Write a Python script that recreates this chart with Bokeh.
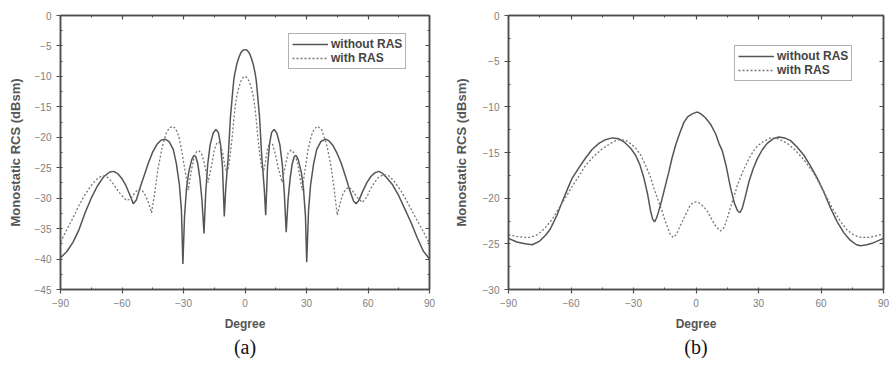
from bokeh.plotting import figure
from bokeh.models import (LinearAxis, SingleIntervalTicker, Legend, LegendItem,
                          Title, Range1d, ColumnDataSource)
from bokeh.layouts import row
from bokeh.embed import file_html
from bokeh.resources import INLINE

# ---------------- data: panel (a) ----------------
a_without_x = [-90, -87, -84, -81, -78, -75, -72, -69, -66, -64, -62, -60, -58, -56, -54.5, -53, -51, -49,
               -47, -45, -43, -41, -39, -37, -35, -33.5, -32, -31, -30.3, -29.5, -28.5, -27.5, -26, -25,
               -24, -23, -22, -21, -20, -19.2, -18.2, -17, -15.5, -14.2, -13, -12, -11, -10.1, -9.4,
               -8.8, -8.2, -7.1, -6, -5.5, -5, -4, -3, -2, -1, 0,
               1, 2, 3, 4, 5, 5.5, 6, 7.1, 8.2, 8.8, 9.4, 10.1, 11, 12, 13, 14.2, 15.5, 17, 18.2, 19.2,
               20.1, 21, 22, 23, 24, 25, 26, 27.5, 28.5, 29.5, 30.1, 31, 32, 33.5, 35, 37, 39.3, 41, 43,
               45, 47, 49, 51, 53, 54.2, 55.5, 57.5, 59.5, 61.5, 63.5, 65.3, 67, 69, 72, 75, 78, 81, 84,
               87, 90]
a_without_y = [-39.8, -38.8, -37.3, -35.2, -32.4, -30.0, -28.0, -26.5, -25.7, -25.6, -26.0, -26.8, -28.0,
               -29.6, -30.9, -30.3, -28.1, -26.1, -24.1, -22.4, -21.2, -20.5, -20.3, -20.7, -22.0, -24.3,
               -27.8, -32.0, -40.8, -33.0, -28.3, -25.8, -23.7, -23.0, -23.2, -24.4, -26.8, -30.3, -35.8,
               -29.3, -24.5, -21.2, -19.3, -18.7, -19.2, -21.0, -24.8, -33.0, -28.5, -25.8, -23.3, -16.7,
               -12.5, -10.7, -9.6, -8.0, -6.9, -6.1, -5.7, -5.6,
               -5.7, -6.1, -6.9, -8.0, -9.6, -10.7, -12.5, -16.7, -23.3, -25.8, -28.5, -32.8, -24.8, -21.0,
               -19.2, -18.7, -19.3, -21.2, -24.5, -29.3, -35.6, -30.3, -26.8, -24.4, -23.2, -23.0, -23.7,
               -25.8, -28.3, -33.0, -40.5, -32.0, -27.8, -24.3, -22.0, -20.7, -20.3, -20.6, -21.4, -22.7,
               -24.3, -26.4, -28.6, -30.5, -30.9, -30.4, -28.8, -27.4, -26.4, -25.8, -25.6, -25.9, -26.6,
               -27.8, -29.6, -31.8, -34.0, -36.5, -38.7, -40.0]

a_with_x = [-90, -87, -84, -81, -78, -75, -72, -69.7, -67, -65, -63.2, -61, -59, -57.5, -55.5, -53.5, -51.8,
            -50, -48.5, -47, -45.6, -44.2, -42.5, -40.4, -38.5, -37, -35.5, -34, -32.3, -30.6, -29.2,
            -27.7, -26.2, -24.8, -23.5, -22.5, -21.2, -19.8, -18, -16.3, -14.9, -13.6, -12.3, -11, -9.8,
            -8.8, -8, -7.2, -6.2, -5.4, -4.6, -4, -3, -2, -1, 0,
            1, 2, 3, 4, 4.6, 5.4, 6.2, 7.2, 8, 9, 10, 11, 12.1, 13.3, 14.6, 16.2, 18.1, 19.6, 21, 22.5,
            24, 25.5, 27.9, 29.3, 30.8, 32.3, 33.8, 35.5, 37.5, 40.1, 41.8, 43.4, 45, 46.3, 47.4, 49,
            50.7, 52.5, 54.5, 57.2, 59.5, 61, 62.8, 65, 67.7, 70, 72.5, 75.9, 78.5, 81, 84, 87, 90]
a_with_y = [-37.2, -35.2, -33.3, -31.2, -29.4, -27.9, -26.8, -26.3, -26.6, -27.3, -28.2, -29.2, -30.0,
            -30.4, -30.0, -29.0, -28.5, -28.8, -29.6, -30.8, -32.4, -29.5, -25.3, -21.6, -19.4, -18.5,
            -18.2, -18.5, -19.8, -22.7, -25.6, -28.7, -25.5, -23.2, -22.3, -22.2, -22.7, -24.3, -27.4,
            -24.6, -22.0, -20.8, -20.9, -22.4, -24.8, -25.8, -24.8, -22.8, -19.8, -16.8, -14.5, -13.2,
            -11.8, -10.8, -10.2, -10.0,
            -10.2, -10.8, -11.8, -13.2, -14.5, -16.8, -19.8, -22.8, -24.8, -25.7, -24.0, -21.8, -20.8,
            -21.0, -22.5, -25.0, -27.4, -24.8, -22.6, -22.1, -22.6, -24.0, -28.7, -25.3, -22.0, -19.8,
            -18.6, -18.2, -18.8, -21.6, -24.5, -28.2, -32.8, -31.0, -29.6, -28.6, -28.2, -28.8, -29.8,
            -30.7, -29.8, -28.6, -27.6, -26.6, -26.1, -26.3, -27.1, -28.7, -30.2, -31.8, -33.7, -35.5,
            -37.5]

# ---------------- data: panel (b) ----------------
b_without_x = [-90, -86, -82, -78.6, -75, -72, -70, -67, -64.2, -61.5, -59.4, -56, -53, -50, -46.6, -43.5,
               -40.2, -37, -34.2, -31.5, -29, -27, -25, -23.2, -21.8, -20.8, -19.9, -19, -18, -17, -15,
               -13, -11.5, -9.8, -8, -5.8, -4, -2, 0, 1, 2.5, 4.5, 7, 9.5, 11, 12.6, 14.5, 16.6, 18.5,
               20, 21.1, 22.2, 23.5, 25.4, 27.4, 29.4, 31.8, 34.2, 37, 39.8, 42.5, 45.4, 48.5, 51.8, 55,
               58.2, 61.5, 64.6, 67.8, 71, 74, 77, 79, 82, 85, 87, 90]
b_without_y = [-24.4, -24.8, -25.0, -25.1, -24.7, -24.0, -23.4, -22.0, -20.4, -18.9, -17.8, -16.6, -15.6,
               -14.7, -14.0, -13.6, -13.4, -13.5, -13.9, -14.5, -15.3, -16.3, -17.8, -19.6, -21.4, -22.3,
               -22.6, -22.2, -21.5, -20.7, -18.9, -17.1, -15.6, -14.2, -13.0, -11.7, -11.1, -10.8, -10.6,
               -10.6, -10.8, -11.2, -11.9, -13.0, -14.0, -14.8, -16.5, -18.9, -20.6, -21.4, -21.6, -21.1,
               -20.0, -18.2, -16.8, -15.7, -14.7, -14.0, -13.5, -13.3, -13.4, -13.7, -14.4, -15.3, -16.5,
               -17.8, -19.4, -21.1, -22.6, -23.8, -24.6, -25.1, -25.2, -25.1, -24.9, -24.7, -24.4]

b_with_x = [-90, -86, -82, -80.2, -77, -74.5, -72.2, -69, -65.8, -62.5, -59.4, -56, -53, -49, -45, -41,
            -38.5, -36.2, -33.5, -31, -29, -26.5, -24.2, -22, -20.2, -18.2, -16.2, -14.5, -12.5, -11,
            -9.5, -7.5, -5, -3, -1.5, 0, 1.5, 3.5, 5.4, 7.5, 9.5, 11.8, 13.5, 15, 17.4, 20, 23, 25.8,
            28.6, 31.5, 35.8, 39.5, 43.8, 47.5, 51.8, 56, 59.8, 63, 66.2, 69.5, 72.6, 75.5, 79, 83, 87, 90]
b_with_y = [-24.0, -24.2, -24.3, -24.3, -24.1, -23.7, -23.2, -22.3, -21.1, -19.9, -18.7, -17.5, -16.4,
            -15.4, -14.6, -14.0, -13.7, -13.6, -13.7, -14.1, -14.5, -15.3, -16.4, -17.6, -18.9, -20.2,
            -21.5, -22.7, -23.9, -24.3, -24.0, -23.0, -21.8, -20.9, -20.5, -20.4, -20.5, -20.9, -21.4,
            -22.3, -23.1, -23.6, -23.2, -22.2, -20.4, -18.5, -16.8, -15.5, -14.5, -13.9, -13.4, -13.5,
            -14.0, -14.7, -15.8, -17.1, -18.6, -20.0, -21.4, -22.6, -23.5, -24.0, -24.3, -24.3, -24.1,
            -23.9]

series_names = ["without RAS", "with RAS"]
x_ticks_interval = 30
y_ticks_interval = 5

FRAME = "#4d4d4d"
TICKC = "#808080"
LABC = "#555555"


def style_axis(ax, show_labels, inward):
    ax.axis_line_color = FRAME
    ax.axis_line_width = 1.5
    ax.major_tick_line_color = FRAME
    ax.minor_tick_line_color = FRAME
    ax.major_tick_line_width = 1.2
    ax.minor_tick_line_width = 1.0
    if inward:
        ax.major_tick_in = 4
        ax.major_tick_out = 0
        ax.minor_tick_in = 2
        ax.minor_tick_out = 0
    else:
        ax.major_tick_in = 0
        ax.major_tick_out = 4
        ax.minor_tick_in = 2
        ax.minor_tick_out = 0
    if show_labels:
        ax.major_label_text_font = "Liberation Sans"
        ax.major_label_text_font_size = "10px"
        ax.major_label_text_color = TICKC
        ax.major_label_standoff = 5
    else:
        ax.major_label_text_color = None
        ax.major_label_standoff = 0
        ax.axis_label = None


def make_panel(width, ymin, b_left, b_right, b_top, b_bottom, xs_s, ys_s, xs_d, ys_d, leg_loc, tag,
               ylab_standoff):
    p = figure(width=width, height=367, x_range=Range1d(-90, 90), y_range=Range1d(ymin, 0),
               output_backend="svg", toolbar_location=None,
               min_border_left=b_left, min_border_right=b_right,
               min_border_top=b_top, min_border_bottom=b_bottom)
    p.xgrid.visible = False
    p.ygrid.visible = False
    p.outline_line_color = FRAME
    p.outline_line_width = 1.5
    p.background_fill_color = "white"
    p.border_fill_color = "white"

    xt = SingleIntervalTicker(interval=x_ticks_interval, num_minor_ticks=2)
    yt = SingleIntervalTicker(interval=y_ticks_interval, num_minor_ticks=2)
    p.xaxis.ticker = xt
    p.yaxis.ticker = yt
    style_axis(p.xaxis[0], True, False)
    style_axis(p.yaxis[0], True, False)
    p.xaxis.axis_label = "Degree"
    p.yaxis.axis_label = "Monostatic RCS (dBsm)"
    for ax in (p.xaxis[0], p.yaxis[0]):
        ax.axis_label_text_font = "Liberation Sans"
        ax.axis_label_text_font_style = "bold"
        ax.axis_label_text_color = LABC
    p.xaxis.axis_label_text_font_size = "12px"
    p.yaxis.axis_label_text_font_size = "13px"
    p.xaxis.axis_label_standoff = 7
    p.yaxis.axis_label_standoff = ylab_standoff

    top = LinearAxis(ticker=SingleIntervalTicker(interval=x_ticks_interval, num_minor_ticks=2))
    right = LinearAxis(ticker=SingleIntervalTicker(interval=y_ticks_interval, num_minor_ticks=2))
    style_axis(top, False, True)
    style_axis(right, False, True)
    p.add_layout(top, "above")
    p.add_layout(right, "right")

    src_s = ColumnDataSource(dict(x=xs_s, y=ys_s))
    src_d = ColumnDataSource(dict(x=xs_d, y=ys_d))
    r1 = p.line("x", "y", source=src_s, line_color="#555555", line_width=1.5)
    r2 = p.line("x", "y", source=src_d, line_color="#777777", line_width=1.3, line_dash="2 2")

    leg = Legend(items=[LegendItem(label=series_names[0], renderers=[r1]),
                        LegendItem(label=series_names[1], renderers=[r2])],
                 location=leg_loc)
    leg.label_text_font = "Liberation Sans"
    leg.label_text_font_size = "12px"
    leg.label_text_font_style = "bold"
    leg.label_text_color = "#444444"
    leg.border_line_color = "#666666"
    leg.border_line_width = 1.5
    leg.glyph_width = 36
    leg.glyph_height = 14
    leg.label_height = 14
    leg.label_standoff = 3
    leg.spacing = 0
    leg.padding = 3
    leg.margin = 0
    leg.background_fill_alpha = 1
    p.add_layout(leg)

    t = Title(text=tag, align="center", text_font="Liberation Serif", text_font_size="20px",
              text_font_style="normal", text_color="#111111", offset=0, standoff=0)
    p.add_layout(t, "below")
    return p


p1 = make_panel(449, -45, 60, 20, 15, 78, a_without_x, a_without_y, a_with_x, a_with_y,
                (228, 220), "(a)", 9)
p2 = make_panel(442, -30, 59, 8, 12, 78, b_without_x, b_without_y, b_with_x, b_with_y,
                (226, 208), "(b)", 11)

layout = row(p1, p2)
open("out.html", "w").write(file_html(layout, INLINE))
